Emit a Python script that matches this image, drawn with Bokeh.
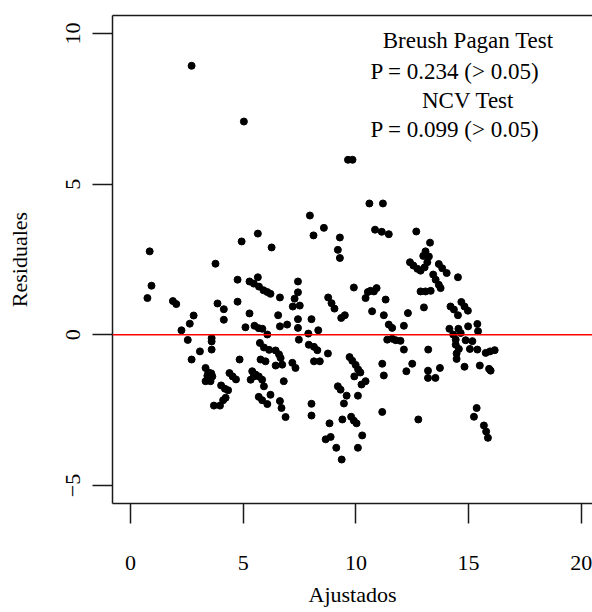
from bokeh.plotting import figure
from bokeh.models import Range1d, FixedTicker, LinearAxis, Span, Label, ColumnDataSource
from bokeh.embed import file_html
from bokeh.resources import INLINE

# Fitted values (Ajustados)
fitted = [
    2.71, 5.03, 9.65, 9.85,
    7.96, 8.58, 8.12, 5.65, 4.93, 6.26, 9.29, 9.20, 9.29, 0.85, 3.77,
    10.60, 11.20, 10.85, 11.15, 11.46, 12.68, 13.29, 13.09, 12.99,
    12.40, 12.55, 12.73, 12.87, 13.05, 13.17, 13.24,
    13.68, 13.83, 14.03, 13.43, 13.54, 13.68, 13.76, 14.53,
    4.75, 5.28, 0.93, 5.65, 5.47, 5.70, 5.90, 6.07, 6.21,
    7.43, 7.43, 7.28, 7.20, 7.51, 6.63,
    8.77, 8.92, 9.05, 9.91, 10.53, 10.43, 10.65, 10.92, 10.80, 11.32,
    12.87, 13.09, 13.32,
    0.75, 1.88, 2.03, 3.86, 4.14, 4.75, 5.28, 4.14, 2.80, 2.63, 2.26, 5.10,
    5.50, 5.69, 5.85,
    10.72, 9.51, 9.35, 6.55, 7.43, 7.43, 8.03, 8.33, 6.63, 6.95, 6.07, 7.89,
    13.02, 11.24, 12.31, 12.13, 11.46, 11.61,
    14.20, 14.35, 14.53, 14.68, 14.82, 14.97,
    14.15, 14.55, 14.98, 15.39, 14.32, 14.65, 15.42,
    2.54, 3.60, 3.60, 3.08, 3.60, 2.71, 4.84,
    3.33, 3.45, 3.41, 3.33, 3.55, 3.63, 3.58,
    4.39, 4.53, 4.68, 5.33, 5.47, 4.02, 4.19, 4.33, 4.22, 4.11, 3.70, 3.97,
    7.47,
    5.74, 5.92, 6.15, 6.44, 6.59, 6.66,
    7.91, 8.14, 8.29, 8.76,
    5.77, 5.99, 6.44, 6.73, 7.18, 7.32, 8.14, 8.40,
    9.72, 9.84, 9.99, 10.10, 9.93, 10.20,
    5.40, 5.55, 5.69, 5.84, 5.92,
    6.80, 10.43, 10.25, 9.20, 9.32,
    5.69, 5.84, 6.07, 6.21, 6.63, 6.70, 6.88,
    8.03, 8.03, 9.59, 9.47, 10.09, 8.83, 9.40, 9.79, 9.91, 10.03, 10.28,
    8.66, 8.88, 9.13, 10.09, 9.37,
    11.39, 11.61, 11.77, 11.98, 12.13, 13.21,
    11.17, 11.24, 12.24, 12.50, 13.20, 13.20, 13.53, 13.73,
    14.43, 14.43, 14.57, 14.47, 14.47, 14.82, 15.50,
    14.87, 15.17, 15.06, 15.39, 15.76, 15.95, 16.16, 15.91, 15.98,
    11.17, 12.77, 15.36, 15.24, 15.68, 15.78, 15.86,
]

# Residuals (Residuales)
residuals = [
    8.93, 7.08, 5.81, 5.81,
    3.96, 3.55, 3.30, 3.36, 3.10, 2.90, 3.23, 2.82, 2.55, 2.77, 2.36,
    4.36, 4.36, 3.49, 3.42, 3.34, 3.43, 3.06, 2.77, 2.62,
    2.41, 2.30, 2.19, 2.13, 2.24, 2.41, 2.60,
    2.35, 2.21, 2.05, 2.00, 1.83, 1.66, 1.55, 1.91,
    1.83, 1.77, 1.63, 1.91, 1.70, 1.60, 1.48, 1.42, 1.36,
    1.77, 1.41, 1.20, 0.94, 0.97, 1.24,
    1.24, 1.05, 0.87, 1.57, 1.42, 1.22, 1.46, 1.55, 1.44, 1.17,
    1.44, 1.44, 1.46,
    1.22, 1.12, 1.02, 1.04, 0.85, 1.10, 0.71, 0.50, 0.64, 0.37, 0.15, 0.25,
    0.30, 0.22, 0.20,
    0.78, 0.65, 0.56, 0.65, 0.52, 0.23, 0.52, 0.15, 0.28, 0.34, 0.01, 0.04,
    0.91, 0.65, 0.72, 0.30, 0.34, 0.23,
    0.94, 0.84, 0.65, 1.09, 0.94, 0.80,
    0.20, 0.20, 0.28, 0.36, 0.01, 0.06, 0.12,
    -0.17, -0.11, -0.22, -0.55, -0.49, -0.82, -0.82,
    -1.10, -1.25, -1.36, -1.54, -1.54, -1.38, -1.28,
    -1.27, -1.38, -1.48, -1.49, -1.38, -1.68, -1.79, -1.84, -2.09, -2.17, -2.35, -2.35,
    -0.16,
    -0.27, -0.42, -0.50, -0.52, -0.65, -0.77,
    -0.33, -0.40, -0.51, -0.62,
    -0.82, -0.88, -1.02, -0.99, -0.93, -1.10, -0.88, -0.88,
    -0.74, -0.86, -1.00, -1.15, -1.38, -1.25,
    -1.21, -1.32, -1.38, -1.49, -1.71,
    -1.54, -1.54, -1.65, -1.71, -1.82,
    -2.06, -2.17, -2.30, -1.99, -2.20, -2.43, -2.73,
    -2.29, -2.68, -2.02, -2.28, -2.02, -2.94, -2.81, -2.72, -2.85, -2.94, -3.34,
    -3.47, -3.39, -3.75, -3.75, -4.14,
    -0.16, -0.13, -0.18, -0.20, -0.49, -0.49,
    -0.96, -1.35, -1.21, -0.96, -1.19, -1.43, -1.43, -1.10,
    -0.16, -0.33, -0.47, -0.62, -0.80, -1.06, -1.02,
    -0.18, -0.21, -0.47, -0.49, -0.60, -0.55, -0.51, -1.13, -1.19,
    -2.56, -2.81, -2.43, -2.72, -3.01, -3.21, -3.42,
]

x_ticks = [0, 5, 10, 15, 20]
y_ticks = [-5, 0, 5, 10]

test_lines = [
    "Breush Pagan Test",
    "P =  0.234  (> 0.05)",
    "NCV Test",
    "P =  0.099  (> 0.05)",
]

FONT = "Liberation Serif"
INK = "#1a1a1a"

src = ColumnDataSource(data=dict(x=fitted, y=residuals))

p = figure(width=592, height=612, output_backend="svg", toolbar_location=None,
           x_range=Range1d(-0.8, 20.5), y_range=Range1d(-5.6, 10.6),
           min_border_left=112, min_border_right=0, min_border_top=15,
           min_border_bottom=109)
p.outline_line_color = None
p.xgrid.visible = False
p.ygrid.visible = False
p.background_fill_color = "white"
p.border_fill_color = "white"

for ax in (p.xaxis[0], p.yaxis[0]):
    ax.axis_line_color = INK
    ax.axis_line_width = 1.5
    ax.major_tick_line_color = INK
    ax.major_tick_line_width = 1.5
    ax.major_tick_in = 0
    ax.major_tick_out = 20
    ax.minor_tick_line_color = None
    ax.major_label_text_font = FONT
    ax.major_label_text_font_size = "22px"
    ax.major_label_text_color = "black"
    ax.axis_label_text_font = FONT
    ax.axis_label_text_font_size = "22px"
    ax.axis_label_text_font_style = "normal"
    ax.axis_label_text_color = "black"

p.xaxis.ticker = FixedTicker(ticks=x_ticks)
p.yaxis.ticker = FixedTicker(ticks=y_ticks)
p.xaxis.axis_label = "Ajustados"
p.yaxis.axis_label = "Residuales"
p.xaxis.major_label_standoff = 32
p.xaxis.axis_label_standoff = 9
p.yaxis.major_label_standoff = 12
p.yaxis.axis_label_standoff = 32
p.yaxis.major_label_orientation = "vertical"

top_axis = LinearAxis(ticker=FixedTicker(ticks=[]), major_tick_out=0, major_tick_in=0,
                      minor_tick_out=0, minor_tick_in=0,
                      major_label_text_font_size="0px",
                      axis_line_color=INK, axis_line_width=1.5)
p.add_layout(top_axis, "above")

p.add_layout(Span(location=0, dimension="width", line_color="red", line_width=1.5))

p.scatter("x", "y", source=src, size=7, marker="circle",
          fill_color="black", line_color="black")

label_pos = [(14.98, 9.78), (14.65, 8.74), (14.98, 7.78), (14.65, 6.80)]
for txt, (lx, ly) in zip(test_lines, label_pos):
    p.add_layout(Label(x=lx, y=ly, text=txt, text_align="center",
                       text_baseline="middle", text_font=FONT,
                       text_font_size="23px", text_color="black"))

open("out.html", "w").write(file_html(p, INLINE))
